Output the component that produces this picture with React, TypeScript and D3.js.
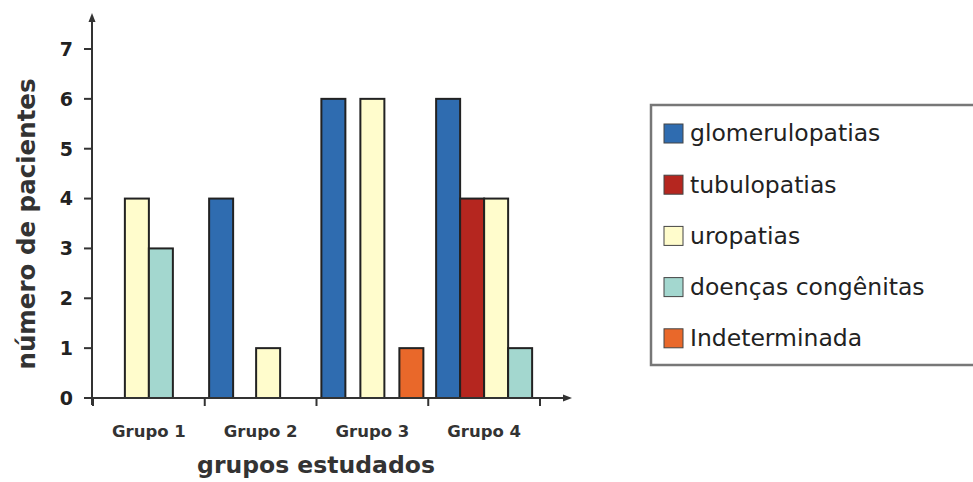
import React from "react";
import * as d3 from "d3";

const groups = ["Grupo 1", "Grupo 2", "Grupo 3", "Grupo 4"];
const seriesNames = ["glomerulopatias", "tubulopatias", "uropatias", "doenças congênitas", "Indeterminada"];
const glomerulopatias = [0, 4, 6, 6];
const tubulopatias = [0, 0, 0, 4];
const uropatias = [4, 1, 6, 4];
const congenitas = [3, 0, 0, 1];
const indeterminada = [0, 0, 1, 0];
const yTicks = [0, 1, 2, 3, 4, 5, 6, 7];

const seriesValues = [glomerulopatias, tubulopatias, uropatias, congenitas, indeterminada];
const colors = ["#2f6cb0", "#b5261f", "#fffccc", "#a3d7cf", "#e9682a"];

// layout per group: gap between bars, horizontal shift of the cluster
const groupGap = [0, 23, 15, 0];
const groupShift = [0, -16, 0, 0];

export default function App() {
  const W = 973, H = 482;
  const x0 = 93, x1 = 540;
  const y = d3.scaleLinear().domain([0, 7]).range([398, 49]);
  const xb = d3.scaleBand<string>().domain(groups).range([x0, x1]);
  const barW = 24;
  const font = "'DejaVu Sans', sans-serif";

  const bars: { x: number; y: number; h: number; c: string; key: string }[] = [];
  groups.forEach((g, gi) => {
    const present = seriesValues.map((s, si) => ({ si, v: s[gi] })).filter((d) => d.v > 0);
    const n = present.length;
    const gap = groupGap[gi];
    const total = n * barW + (n - 1) * gap;
    const cx = (xb(g) as number) + xb.bandwidth() / 2 + groupShift[gi];
    const start = cx - total / 2;
    const inner = d3
      .scaleBand<number>()
      .domain(present.map((d) => d.si))
      .range([start, start + total])
      .paddingInner(n > 1 ? gap / (barW + gap) : 0);
    present.forEach((d) => {
      bars.push({
        x: inner(d.si) as number,
        y: y(d.v),
        h: y(0) - y(d.v),
        c: colors[d.si],
        key: g + d.si,
      });
    });
  });

  const bandTicks = [x0, ...groups.map((g) => (xb(g) as number) + xb.bandwidth())];

  return (
    <svg width={W} height={H} style={{ position: "absolute", left: 0, top: 0 }}>
      <rect width={W} height={H} fill="#fff" />
      {/* y axis */}
      <line x1={92} x2={92} y1={18} y2={405} stroke="#333" strokeWidth={2} />
      <path d="M92,13 L88.5,22 L95.5,22 Z" fill="#333" />
      {yTicks.map((t) => (
        <g key={t}>
          <line x1={84} x2={92} y1={y(t)} y2={y(t)} stroke="#333" strokeWidth={2} />
          <text x={73} y={y(t)} dy="0.36em" textAnchor="end" fontFamily={font} fontWeight={700} fontSize={19} fill="#222">
            {t}
          </text>
        </g>
      ))}
      {/* bars */}
      {bars.map((b) => (
        <rect key={b.key} x={b.x} y={b.y} width={barW} height={b.h} fill={b.c} stroke="#222" strokeWidth={2} />
      ))}
      {/* x axis */}
      <line x1={87} x2={566} y1={398} y2={398} stroke="#333" strokeWidth={2} />
      <path d="M572,398 L563,394.5 L563,401.5 Z" fill="#333" />
      {bandTicks.map((t, i) => (
        <line key={i} x1={t} x2={t} y1={398} y2={406} stroke="#333" strokeWidth={2} />
      ))}
      {groups.map((g) => (
        <text
          key={g}
          x={(xb(g) as number) + xb.bandwidth() / 2}
          y={431}
          dy="0.36em"
          textAnchor="middle"
          fontFamily={font}
          fontWeight={700}
          fontSize={16.5}
          fill="#333"
        >
          {g}
        </text>
      ))}
      <text x={316} y={465} dy="0.36em" textAnchor="middle" fontFamily={font} fontWeight={700} fontSize={23.5} fill="#333">
        grupos estudados
      </text>
      <text
        transform={`translate(26,224) rotate(-90)`}
        dy="0.36em"
        textAnchor="middle"
        fontFamily={font}
        fontWeight={700}
        fontSize={24.5}
        fill="#333"
      >
        número de pacientes
      </text>
      {/* legend */}
      <path d="M980,105 L651,105 L651,365 L980,365" fill="none" stroke="#777" strokeWidth={2.5} />
      {seriesNames.map((s, i) => (
        <g key={s} transform={`translate(0,${133 + i * 51.2})`}>
          <rect x={664} y={-9} width={19} height={19} fill={colors[i]} stroke="#444" strokeWidth={1} />
          <text x={690} y={0} dy="0.36em" fontFamily={font} fontSize={23.5} fill="#222">
            {s}
          </text>
        </g>
      ))}
    </svg>
  );
}
